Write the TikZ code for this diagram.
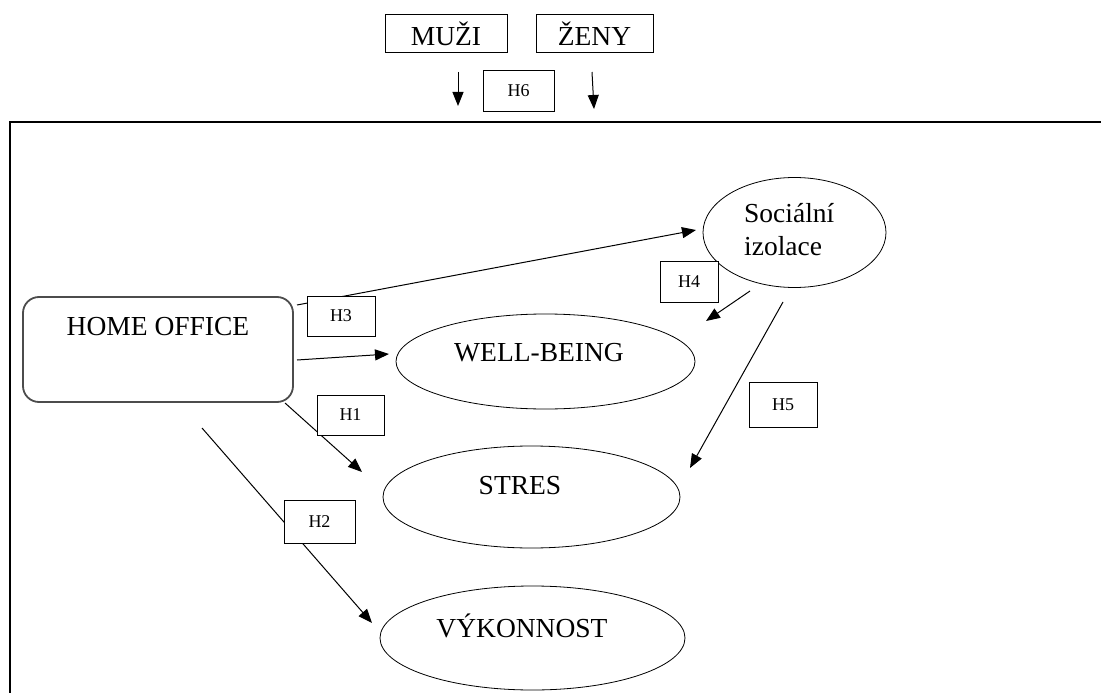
\documentclass[tikz,border=0pt]{standalone}
\usepackage{fontspec}
\setmainfont{Liberation Serif}
\usetikzlibrary{shapes.geometric,arrows.meta}
\begin{document}
\begin{tikzpicture}[x=1pt,y=-1pt,
  bigtext/.style={font=\fontsize{27.5}{33}\selectfont, inner sep=0pt},
  grpbox/.style={draw, line width=1pt, inner sep=0pt, font=\fontsize{27.5}{33}\selectfont},
  hbox/.style={draw, fill=white, line width=1pt, inner sep=0pt, font=\fontsize{18}{20}\selectfont},
  ell/.style={draw, ellipse, line width=0.8pt, inner sep=0pt},
  arr/.style={line width=1pt, -{Triangle[length=14pt,width=11pt]}}]
\useasboundingbox (0,0) rectangle (1101,693);

% frame
\draw[line width=2pt] (1104,122) -- (10,122) -- (10,697);

% top group boxes
\node[grpbox, minimum width=122pt, minimum height=38pt] (muzi) at (446,34) {MUŽI};
\node[grpbox, minimum width=117pt, minimum height=38pt] (zeny) at (594.5,34) {ŽENY};
\node[hbox, minimum width=71pt, minimum height=40pt] (h6) at (518.5,91) {H6};
\coordinate (ma) at (458,72);
\coordinate (mb) at (458,106);
\coordinate (za) at (592,72);
\coordinate (zb) at (594,109);
\draw[arr] (ma) -- (mb);
\draw[arr] (za) -- (zb);

% main nodes
\node[draw=black!70, line width=1.8pt, rounded corners=16pt, minimum width=270pt, minimum height=105pt, inner sep=0pt] (ho) at (158,349.5) {};
\node[bigtext] (hot) at (158,327) {HOME OFFICE};

\node[ell, minimum width=183pt, minimum height=110pt] (soc) at (794.5,232.5) {};
\node[bigtext, align=left, anchor=west] (soct) at (744,230) {Sociální\\izolace};

\node[ell, minimum width=299pt, minimum height=95pt] (wb) at (545.5,361.5) {};
\node[bigtext] (wbt) at (539,353) {WELL-BEING};

\node[ell, minimum width=297pt, minimum height=102pt] (st) at (531.5,497) {};
\node[bigtext] (stt) at (520,486) {STRES};

\node[ell, minimum width=305pt, minimum height=104pt] (vy) at (532.5,638) {};
\node[bigtext] (vyt) at (522,626) {VÝKONNOST};

% connector end points
\coordinate (h3a) at (297,305);
\coordinate (h3b) at (696,230);
\coordinate (wba) at (297,360);
\coordinate (wbb) at (389,354);
\coordinate (h1a) at (285,403);
\coordinate (h1b) at (362,472);
\coordinate (h2a) at (202,428);
\coordinate (h2b) at (372,623);
\coordinate (h4a) at (750,291);
\coordinate (h4b) at (706,321);
\coordinate (h5a) at (783,302);
\coordinate (h5b) at (690,468);

\draw[arr] (h3a) -- (h3b);
\draw[arr] (wba) -- (wbb);
\draw[arr] (h1a) -- (h1b);
\draw[arr] (h2a) -- (h2b);
\draw[arr] (h4a) -- (h4b);
\draw[arr] (h5a) -- (h5b);

% hypothesis labels
\node[hbox, minimum width=68pt, minimum height=40pt] (h3) at (341,316) {H3};
\node[hbox, minimum width=67pt, minimum height=40pt] (h1) at (350.5,415) {H1};
\node[hbox, minimum width=71pt, minimum height=43pt] (h2) at (319.5,521.5) {H2};
\node[hbox, minimum width=58pt, minimum height=41pt] (h4) at (689,281.5) {H4};
\node[hbox, minimum width=68pt, minimum height=45pt] (h5) at (783,404.5) {H5};
\end{tikzpicture}
\end{document}
